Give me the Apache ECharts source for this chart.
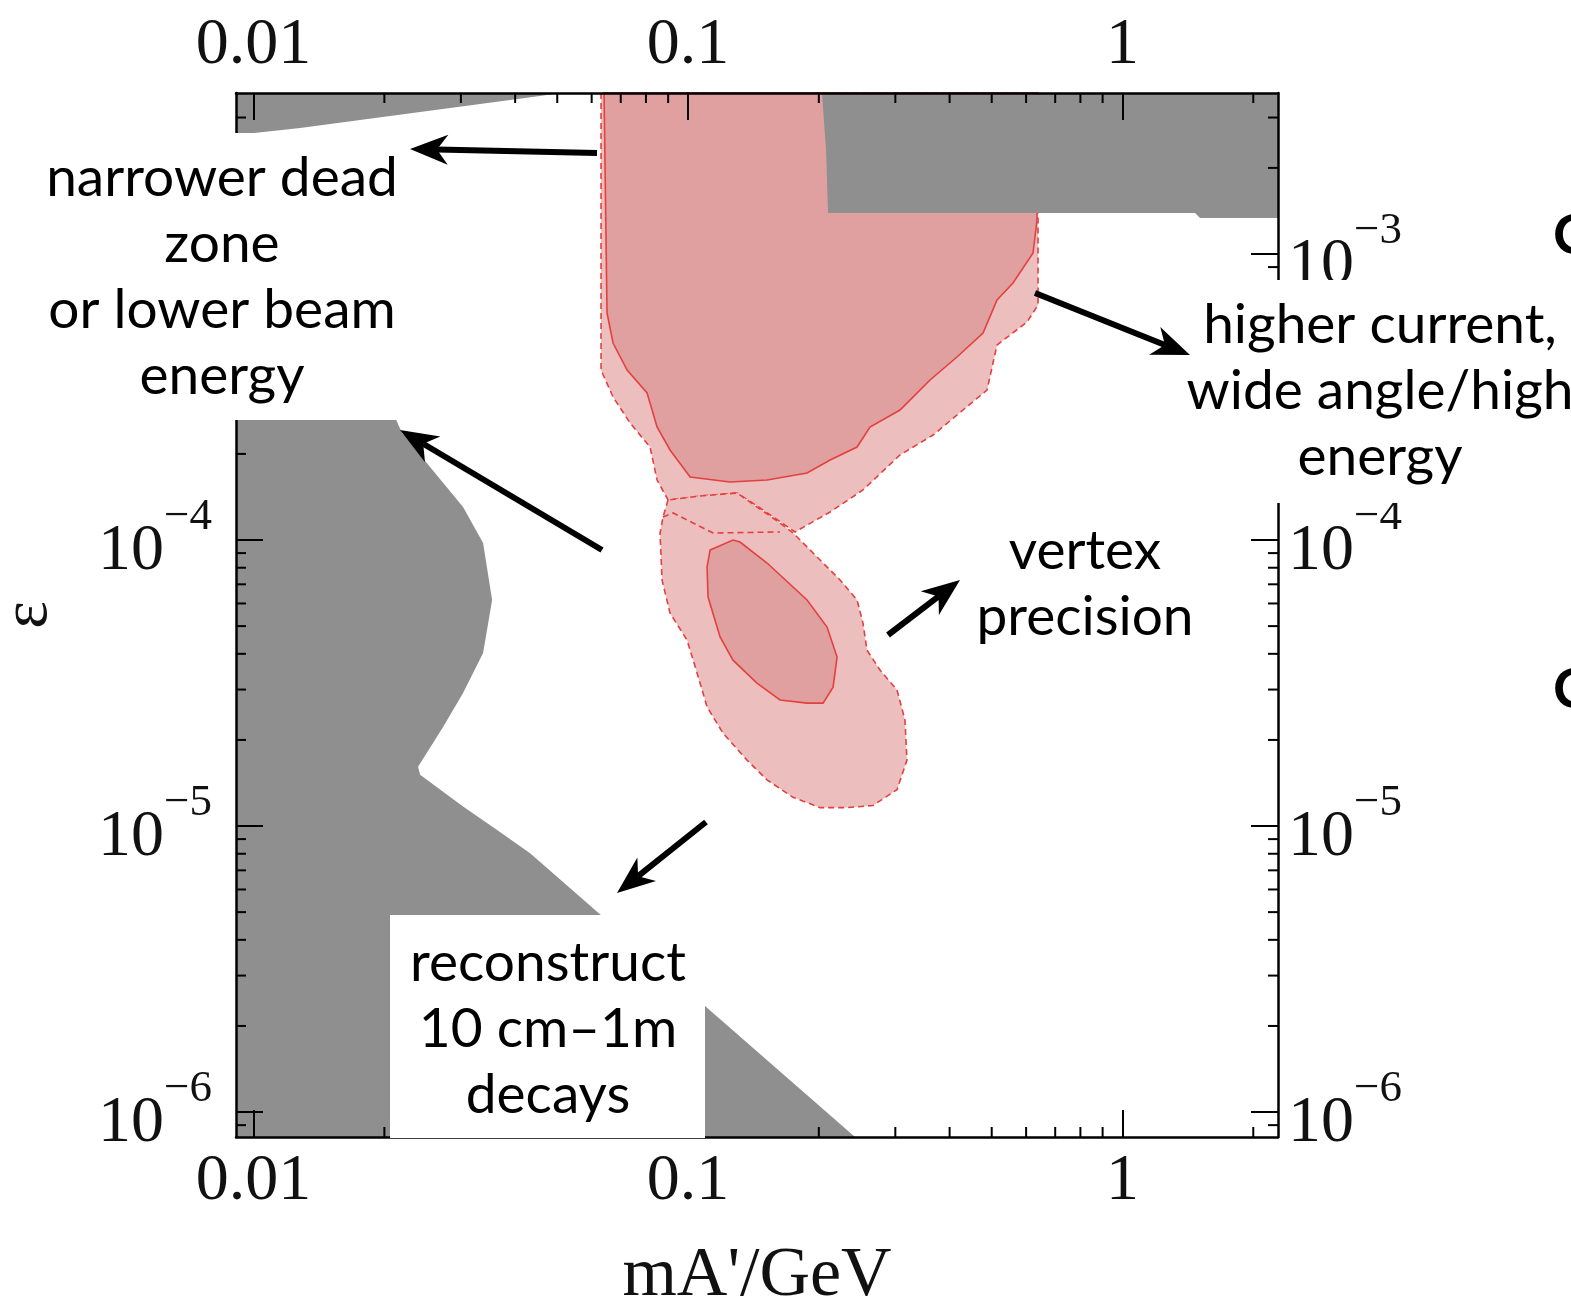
<!DOCTYPE html>
<html><head><meta charset="utf-8">
<script src="https://cdn.jsdelivr.net/npm/echarts@6/dist/echarts.min.js"></script>
<style>html,body{margin:0;padding:0;background:#fff}#c{width:1571px;height:1306px}</style>
</head><body><div id="c"></div>
<script>
// ---- axes / ticks ----
const xRange = [0.00911, 2.28];
const yRange = [8.18e-7, 3.655e-3];
const xTickValues = [0.01, 0.1, 1];
const xTickLabels = ['0.01', '0.1', '1'];
const yTickValues = [1e-6, 1e-5, 1e-4, 1e-3];
const yTickExponents = ['\u22126', '\u22125', '\u22124', '\u22123'];
const xMinorTicks = [0.02,0.03,0.04,0.05,0.06,0.07,0.08,0.09,0.2,0.3,0.4,0.5,0.6,0.7,0.8,0.9,2];
const yMinorTicks = [9e-7,2e-6,3e-6,4e-6,5e-6,6e-6,7e-6,8e-6,9e-6,2e-5,3e-5,4e-5,5e-5,6e-5,7e-5,8e-5,9e-5,
                     2e-4,3e-4,4e-4,5e-4,6e-4,7e-4,8e-4,9e-4,2e-3,3e-3];

// ---- regions [mA'/GeV, epsilon] ----
const grayTopRight = [[0.2034,3.655e-3],[2.28,3.655e-3],[2.28,1.336e-3],[1.508,1.336e-3],[1.469,1.391e-3],[0.2100,1.391e-3],[0.2078,2.310e-3]];
const grayTopLeft = [[0.00911,3.655e-3],[0.05075,3.655e-3],[0.04561,3.567e-3],[0.03322,3.345e-3],[0.02417,3.137e-3],[0.01758,2.941e-3],[0.01280,2.758e-3],[0.00911,2.607e-3]];
const grayLeft = [[0.00911,6.905e-4],[0.01758,6.905e-4],[0.02139,2.586e-4],[0.02197,2.366e-4],[0.02548,1.800e-4],[0.03035,1.304e-4],
  [0.03375,9.76e-5],[0.03540,6.17e-5],[0.03375,4.03e-5],[0.03035,2.92e-5],[0.02730,2.22e-5],[0.02391,1.61e-5],[0.02417,1.51e-5],
  [0.03035,1.17e-5],[0.03635,9.68e-6],[0.04330,8.04e-6],[0.2423,8.18e-7],[0.00911,8.18e-7]];
const upperOuter = [[0.06306,3.655e-3],[0.06306,3.930e-4],[0.06720,3.162e-4],[0.07356,2.565e-4],[0.08177,2.114e-4],[0.08486,1.621e-4],
  [0.08995,1.380e-4],[0.1066,1.425e-4],[0.1297,1.460e-4],[0.1465,1.294e-4],[0.1763,1.067e-4],[0.2123,1.253e-4],[0.2527,1.496e-4],
  [0.3075,1.983e-4],[0.3664,2.328e-4],[0.4294,2.848e-4],[0.4877,3.345e-4],[0.5143,4.806e-4],[0.6030,5.784e-4],[0.6391,6.633e-4],[0.6391,3.655e-3]];
const upperInner = [[0.06407,3.655e-3],[0.06510,6.220e-4],[0.06720,4.884e-4],[0.07240,3.930e-4],[0.08049,3.266e-4],[0.08486,2.484e-4],
  [0.09091,2.064e-4],[0.1011,1.661e-4],[0.1249,1.595e-4],[0.1520,1.621e-4],[0.1879,1.715e-4],[0.2123,1.905e-4],[0.2449,2.114e-4],
  [0.2623,2.484e-4],[0.3075,2.848e-4],[0.3606,3.626e-4],[0.4159,4.364e-4],[0.4775,5.294e-4],[0.5143,6.905e-4],[0.5598,7.919e-4],
  [0.6224,1.008e-3],[0.6357,1.315e-3],[0.6357,3.655e-3]];
const lowerOuter = [[0.08995,1.380e-4],[0.08758,1.203e-4],[0.08621,1.058e-4],[0.08712,7.25e-5],[0.09091,5.55e-5],[0.09947,4.47e-5],
  [0.1049,3.43e-5],[0.1106,2.61e-5],[0.1204,2.11e-5],[0.1367,1.70e-5],[0.1520,1.45e-5],[0.1745,1.26e-5],[0.2013,1.16e-5],
  [0.2323,1.16e-5],[0.2665,1.18e-5],[0.3027,1.34e-5],[0.3191,1.70e-5],[0.3157,2.35e-5],[0.3027,2.99e-5],[0.2766,3.51e-5],
  [0.2582,4.12e-5],[0.2527,5.13e-5],[0.2449,6.17e-5],[0.2238,7.25e-5],[0.1940,9.01e-5],[0.1745,1.058e-4],[0.1628,1.147e-4],
  [0.1297,1.460e-4],[0.1066,1.425e-4]];
const lowerNeckDash = [[0.08758,1.203e-4],[0.09237,1.243e-4],[0.1142,1.058e-4],[0.1628,1.067e-4]];
const lowerInner = [[0.1124,9.23e-5],[0.1269,1.0e-4],[0.1317,9.84e-5],[0.1520,8.31e-5],[0.1879,6.17e-5],[0.2089,4.96e-5],
  [0.2203,3.90e-5],[0.2157,3.06e-5],[0.2045,2.69e-5],[0.1879,2.69e-5],[0.1628,2.76e-5],[0.1441,3.16e-5],[0.1269,3.80e-5],
  [0.1185,4.58e-5],[0.1112,6.32e-5],[0.1106,8.05e-5]];

const GRAY = '#8f8f8f', DARK = '#e0a0a0', LIGHT = '#ecbebe', RED = '#e4403f';
const SERIF = '"Liberation Serif", "DejaVu Serif", serif';
const SANS = 'Lato, "Noto Sans", sans-serif';

function polySeries(pts, fill, stroke, dash, z, closed) {
  return {
    type: 'custom', coordinateSystem: 'cartesian2d', z: z, silent: true, animation: false,
    data: pts,
    renderItem: function (params, api) {
      if (params.dataIndex !== 0) return null;
      const p = pts.map(function (d) { return api.coord(d); });
      return {
        type: closed === false ? 'polyline' : 'polygon',
        shape: { points: p },
        style: { fill: closed === false ? null : fill, stroke: stroke, lineWidth: 1.6, lineDash: dash }
      };
    }
  };
}

function tickSeries(vals, isX, len) {
  return {
    type: 'custom', coordinateSystem: 'cartesian2d', z: 12, silent: true, animation: false,
    data: vals.map(function (v) { return isX ? [v, yRange[0]] : [xRange[0], v]; }),
    renderItem: function (params, api) {
      const st = { stroke: '#000', lineWidth: 2 };
      if (isX) {
        const v = api.value(0);
        const b = api.coord([v, yRange[0]]), t = api.coord([v, yRange[1]]);
        return { type: 'group', children: [
          { type: 'line', shape: { x1: b[0], y1: b[1], x2: b[0], y2: b[1] - len }, style: st },
          { type: 'line', shape: { x1: t[0], y1: t[1], x2: t[0], y2: t[1] + len }, style: st }] };
      } else {
        const v = api.value(1);
        const l = api.coord([xRange[0], v]), r = api.coord([xRange[1], v]);
        return { type: 'group', children: [
          { type: 'line', shape: { x1: l[0], y1: l[1], x2: l[0] + len, y2: l[1] }, style: st },
          { type: 'line', shape: { x1: r[0], y1: r[1], x2: r[0] - len, y2: r[1] }, style: st }] };
      }
    }
  };
}

function matchIdx(arr, v) {
  for (let i = 0; i < arr.length; i++) {
    if (Math.abs(Math.log10(v) - Math.log10(arr[i])) < 1e-6) return i;
  }
  return -1;
}
function xFmt(v) { const i = matchIdx(xTickValues, v); return i < 0 ? '' : xTickLabels[i]; }
function yFmt(v) { const i = matchIdx(yTickValues, v); return i < 0 ? '' : '{b|10}{s|' + yTickExponents[i] + '}'; }

const yRich = {
  b: { fontFamily: SERIF, fontSize: 66, color: '#111', padding: [24, 0, 0, 0] },
  s: { fontFamily: SERIF, fontSize: 45, color: '#111', verticalAlign: 'top' }
};
const axisCommon = {
  type: 'log', logBase: 10, z: 10,
  axisLine: { show: true, onZero: false, lineStyle: { color: '#000', width: 2.5 } },
  axisTick: { show: true, inside: true, length: 27, lineStyle: { color: '#000', width: 2 } },
  splitLine: { show: false }, minorTick: { show: false }, minorSplitLine: { show: false }
};

function arrow(x1, y1, x2, y2) {
  const dx = x2 - x1, dy = y2 - y1, L = Math.hypot(dx, dy), ux = dx / L, uy = dy / L, px = -uy, py = ux;
  const hl = 38, hw = 15, notch = 27;
  const bx = x2 - ux * hl, by = y2 - uy * hl, nx = x2 - ux * notch, ny = y2 - uy * notch;
  return [
    { type: 'line', z: 101, shape: { x1: x1, y1: y1, x2: nx, y2: ny }, style: { stroke: '#000', lineWidth: 6 } },
    { type: 'polygon', z: 101, shape: { points: [[x2, y2], [bx + px * hw, by + py * hw], [nx, ny], [bx - px * hw, by - py * hw]] }, style: { fill: '#000' } }
  ];
}
function label(text, x, y, align) {
  return { type: 'text', z: 102, style: { text: text, x: x, y: y, font: '55px ' + SANS, fill: '#000',
    textAlign: align || 'center', textVerticalAlign: 'middle', align: align || 'center', verticalAlign: 'middle', lineHeight: 66 } };
}
function box(x, y, w, h) {
  return { type: 'rect', z: 100, shape: { x: x, y: y, width: w, height: h }, style: { fill: '#fff' } };
}

const chart = echarts.init(document.getElementById('c'), null, { renderer: 'canvas' });
chart.setOption({
  backgroundColor: '#fff',
  animation: false,
  grid: { left: 236, top: 93, width: 1042, height: 1044, containLabel: false, outerBoundsMode: 'none' },
  xAxis: [
    Object.assign({}, axisCommon, { position: 'bottom', min: xRange[0], max: xRange[1],
      name: "mA'/GeV", nameLocation: 'middle', nameGap: 105,
      nameTextStyle: { fontFamily: SERIF, fontSize: 70, color: '#111', verticalAlign: 'top' },
      axisLabel: { formatter: xFmt, fontFamily: SERIF, fontSize: 66, color: '#111', margin: 12, showMinLabel: false, showMaxLabel: false } }),
    Object.assign({}, axisCommon, { position: 'top', min: xRange[0], max: xRange[1],
      axisLabel: { formatter: xFmt, fontFamily: SERIF, fontSize: 66, color: '#111', margin: 14, showMinLabel: false, showMaxLabel: false } })
  ],
  yAxis: [
    Object.assign({}, axisCommon, { position: 'left', min: yRange[0], max: yRange[1],
      name: '\u03b5', nameLocation: 'middle', nameGap: 174, nameRotate: 90,
      nameTextStyle: { fontFamily: SERIF, fontSize: 66, color: '#111' },
      axisLabel: { formatter: yFmt, rich: yRich, margin: 24, showMinLabel: false, showMaxLabel: false } }),
    Object.assign({}, axisCommon, { position: 'right', min: yRange[0], max: yRange[1],
      axisLabel: { formatter: yFmt, rich: yRich, margin: 10, showMinLabel: false, showMaxLabel: false } })
  ],
  series: [
    polySeries(upperOuter, LIGHT, RED, [6, 4], 2),
    polySeries(lowerOuter, LIGHT, RED, [6, 4], 2),
    polySeries(lowerNeckDash, null, RED, [6, 4], 3, false),
    polySeries(upperInner, DARK, RED, null, 3),
    polySeries(lowerInner, DARK, RED, null, 3),
    polySeries(grayTopRight, GRAY, null, null, 4),
    polySeries(grayTopLeft, GRAY, null, null, 4),
    polySeries(grayLeft, GRAY, null, null, 4),
    tickSeries(xMinorTicks, true, 10),
    tickSeries(yMinorTicks, false, 10)
  ],
  graphic: { elements: [
    box(0, 133, 405, 287),
    box(1196, 280, 375, 223),
    box(390, 915, 315, 223),
    label('narrower dead\nzone\nor lower beam\nenergy', 222, 277),
    label('higher current,\nwide angle/high\nenergy', 1380, 391),
    label('vertex\nprecision', 1085, 584),
    label('reconstruct\n10 cm\u20131m\ndecays', 548, 1029),
    { type: 'text', z: 99, style: { text: 'C', x: 1553, y: 236, font: 'bold 56px ' + SANS, fill: '#000',
      textAlign: 'left', textVerticalAlign: 'middle', align: 'left', verticalAlign: 'middle' } },
    { type: 'text', z: 99, style: { text: 'C', x: 1553, y: 690, font: 'bold 56px ' + SANS, fill: '#000',
      textAlign: 'left', textVerticalAlign: 'middle', align: 'left', verticalAlign: 'middle' } }
  ].concat(arrow(597, 153, 410, 149), arrow(602, 550, 400, 430), arrow(1035, 293, 1190, 355),
           arrow(888, 635, 960, 580), arrow(706, 822, 617, 893)) }
});
</script>
</body></html>
